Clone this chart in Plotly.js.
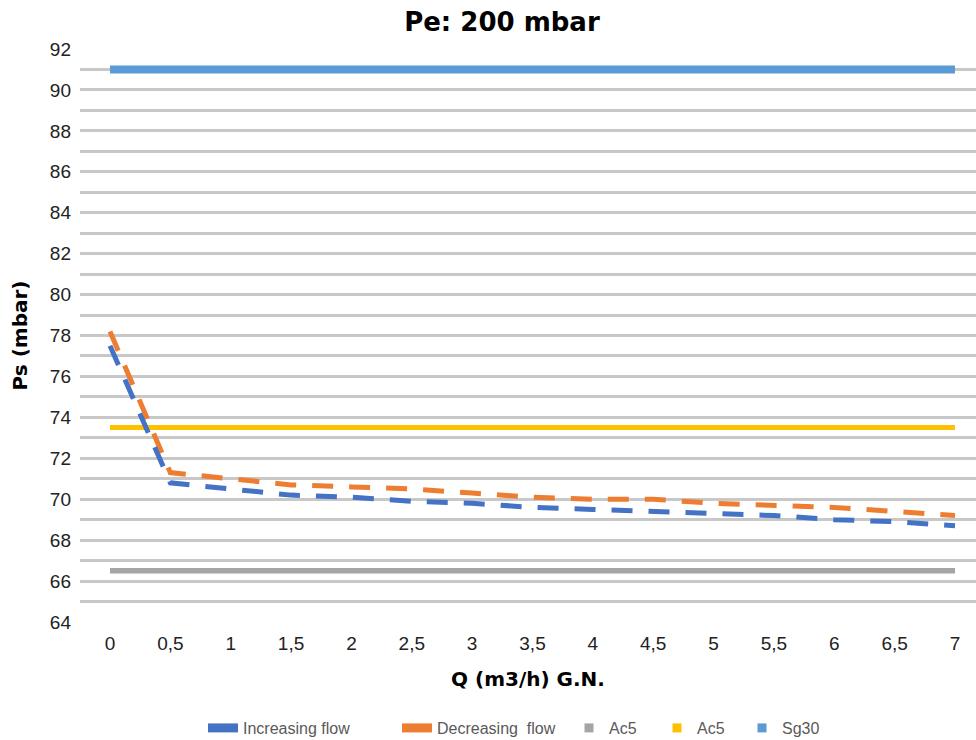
<!DOCTYPE html>
<html><head><meta charset="utf-8">
<script src="https://cdn.plot.ly/plotly-3.0.1.min.js"></script>
<style>body{margin:0;background:#fff}#chart{width:976px;height:740px}</style>
</head><body><div id="chart"></div>
<script>
const flow = [0,0.5,1,1.5,2,2.5,3,3.5,4,4.5,5,5.5,6,6.5,7];
const increasing = [77.5,70.8,70.5,70.2,70.1,69.9,69.8,69.6,69.5,69.4,69.3,69.2,69.0,68.9,68.7];
const decreasing = [78.2,71.3,71.0,70.7,70.6,70.5,70.3,70.1,70.0,70.0,69.8,69.7,69.6,69.4,69.2];
const ac5Low = 66.5;
const ac5High = 73.5;
const sg30 = 91;
const xEnds = [0,7];

const traces = [
  {x:xEnds, y:[ac5Low,ac5Low], mode:'lines', line:{color:'#A5A5A5', width:5.5}, showlegend:false, hoverinfo:'skip'},
  {x:xEnds, y:[ac5High,ac5High], mode:'lines', line:{color:'#FFC000', width:5}, showlegend:false, hoverinfo:'skip'},
  {x:xEnds, y:[sg30,sg30], mode:'lines', line:{color:'#5B9BD5', width:8}, showlegend:false, hoverinfo:'skip'},
  {x:flow, y:decreasing, mode:'lines', line:{color:'#ED7D31', width:5, dash:'21px,16px'}, showlegend:false},
  {x:flow, y:increasing, mode:'lines', line:{color:'#4472C4', width:5, dash:'21px,16px'}, showlegend:false},
  // legend entries
  {x:[null], y:[null], mode:'lines', name:'Increasing flow', legend:'legend', line:{color:'#4472C4', width:9}},
  {x:[null], y:[null], mode:'lines', name:'Decreasing  flow', legend:'legend2', line:{color:'#ED7D31', width:9}},
  {x:[null], y:[null], mode:'markers', name:'Ac5', legend:'legend3', marker:{color:'#A5A5A5', symbol:'square', size:9}},
  {x:[null], y:[null], mode:'markers', name:'Ac5', legend:'legend4', marker:{color:'#FFC000', symbol:'square', size:9}},
  {x:[null], y:[null], mode:'markers', name:'Sg30', legend:'legend5', marker:{color:'#5B9BD5', symbol:'square', size:9}}
];

function legendAt(px){
  return {orientation:'h', xref:'container', yref:'container', x:px/976, xanchor:'left', y:1-728/740, yanchor:'middle',
          font:{family:'"Liberation Sans", Arial, sans-serif', size:16, color:'#595959'}, itemwidth:30,
          bgcolor:'rgba(0,0,0,0)'};
}
const titleFont = {family:'"DejaVu Sans", sans-serif', size:20, color:'#000'};

const layout = {
  width:976, height:740,
  separators:', ',
  paper_bgcolor:'#fff', plot_bgcolor:'#fff',
  margin:{l:80, r:0, t:49, b:118, autoexpand:false},
  font:{family:'"Liberation Sans", Arial, sans-serif', color:'#222'},
  title:{text:'<b>Pe: 200 mbar</b>', xref:'container', x:0.5143, xanchor:'center', y:0.970, yanchor:'middle',
         font:{family:'"DejaVu Sans", sans-serif', size:26, color:'#000'}},
  xaxis:{range:[-0.2485,7.174], tickmode:'linear', tick0:0, dtick:0.5, showgrid:false, zeroline:false, automargin:false,
         showline:false, ticks:'', ticklabelstandoff:8, tickfont:{size:19, color:'#222'},
         title:{text:'<b>Q (m3/h) G.N.</b>', font:titleFont, standoff:18}},
  yaxis:{range:[64,92], tickmode:'linear', tick0:64, dtick:2, showgrid:true, gridcolor:'#C8C8C8', gridwidth:2.5,
         zeroline:false, showline:false, ticks:'', ticklabelstandoff:8, automargin:false, tickfont:{size:19, color:'#222'},
         minor:{dtick:1, showgrid:true, gridcolor:'#C8C8C8', gridwidth:2.5, ticks:''},
         title:{text:'<b>Ps (mbar)</b>', font:titleFont, standoff:16}},
  legend:legendAt(203),
  legend2:legendAt(397),
  legend3:legendAt(569),
  legend4:legendAt(657),
  legend5:legendAt(742)
};
Plotly.newPlot('chart', traces, layout, {displayModeBar:false});
</script></body></html>
